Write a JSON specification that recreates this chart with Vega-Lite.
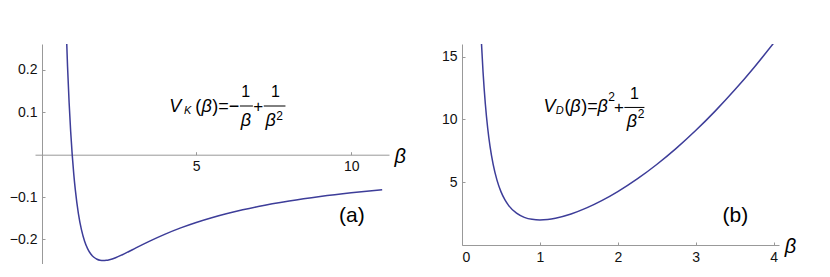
{
  "$schema": "https://vega.github.io/schema/vega-lite/v6.json",
  "padding": {"left": 9, "top": 44, "right": 0, "bottom": 0},
  "background": "white",
  "bounds": "flush",
  "spacing": 73,
  "config": {
    "view": {"stroke": null},
    "axis": {
      "grid": false,
      "title": null,
      "domainColor": "#999999",
      "tickColor": "#999999",
      "tickSize": -3,
      "labelFont": "Liberation Sans",
      "labelFontSize": 14,
      "labelColor": "#111111",
      "labelPadding": 8
    },
    "text": {"font": "Liberation Sans", "color": "#000000"}
  },
  "hconcat": [
    {
      "width": 354,
      "height": 220,
      "layer": [
        {
          "data": {"values": [
            {"beta": 0.8, "V": 0.3125}, {"beta": 0.85, "V": 0.2076}, {"beta": 0.9, "V": 0.1235}, {"beta": 0.95, "V": 0.0554},
            {"beta": 1.0, "V": 0.0}, {"beta": 1.05, "V": -0.0454}, {"beta": 1.1, "V": -0.0826}, {"beta": 1.2, "V": -0.1389},
            {"beta": 1.3, "V": -0.1775}, {"beta": 1.4, "V": -0.2041}, {"beta": 1.5, "V": -0.2222}, {"beta": 1.6, "V": -0.2344},
            {"beta": 1.7, "V": -0.2422}, {"beta": 1.8, "V": -0.2469}, {"beta": 1.9, "V": -0.2493}, {"beta": 2.0, "V": -0.25},
            {"beta": 2.1, "V": -0.2494}, {"beta": 2.2, "V": -0.2479}, {"beta": 2.4, "V": -0.2431}, {"beta": 2.6, "V": -0.2367},
            {"beta": 2.8, "V": -0.2296}, {"beta": 3.0, "V": -0.2222}, {"beta": 3.25, "V": -0.213}, {"beta": 3.5, "V": -0.2041},
            {"beta": 4.0, "V": -0.1875}, {"beta": 4.5, "V": -0.1728}, {"beta": 5.0, "V": -0.16}, {"beta": 5.5, "V": -0.1488},
            {"beta": 6.0, "V": -0.1389}, {"beta": 6.5, "V": -0.1302}, {"beta": 7.0, "V": -0.1224}, {"beta": 8.0, "V": -0.1094},
            {"beta": 9.0, "V": -0.0988}, {"beta": 10.0, "V": -0.09}, {"beta": 11.0, "V": -0.0826}
          ]},
          "mark": {"type": "line", "clip": true, "color": "#3d3d99", "strokeWidth": 1.5, "interpolate": "monotone"},
          "encoding": {
            "x": {"field": "beta", "type": "quantitative",
                  "scale": {"domain": [-0.2, 11.22], "nice": false, "zero": false},
                  "axis": {"values": [5, 10], "format": "d", "offset": -109.3}},
            "y": {"field": "V", "type": "quantitative",
                  "scale": {"domain": [-0.258, 0.261], "nice": false, "zero": false},
                  "axis": {"values": [-0.2, -0.1, 0.1, 0.2], "format": ".1f", "offset": -7}}
          }
        },
        {"data": {"values": [{}]}, "mark": {"type": "text", "text": "V", "fontSize": 18, "fontStyle": "italic", "align": "left", "baseline": "middle"},
         "encoding": {"x": {"datum": 4.13}, "y": {"datum": 0.1125}}},
        {"data": {"values": [{}]}, "mark": {"type": "text", "text": "K", "fontSize": 11, "fontStyle": "italic", "align": "left", "baseline": "middle"},
         "encoding": {"x": {"datum": 4.61}, "y": {"datum": 0.102}}},
        {"data": {"values": [{}]}, "mark": {"type": "text", "text": "(", "fontSize": 18, "align": "left", "baseline": "middle"},
         "encoding": {"x": {"datum": 4.97}, "y": {"datum": 0.1125}}},
        {"data": {"values": [{}]}, "mark": {"type": "text", "text": "β", "fontSize": 18, "fontStyle": "italic", "align": "left", "baseline": "middle"},
         "encoding": {"x": {"datum": 5.17}, "y": {"datum": 0.1125}}},
        {"data": {"values": [{}]}, "mark": {"type": "text", "text": ")=−", "fontSize": 18, "align": "left", "baseline": "middle"},
         "encoding": {"x": {"datum": 5.52}, "y": {"datum": 0.1125}}},
        {"data": {"values": [{}]}, "mark": {"type": "text", "text": "1", "fontSize": 16, "align": "center", "baseline": "middle"},
         "encoding": {"x": {"datum": 6.6}, "y": {"datum": 0.148}}},
        {"data": {"values": [{}]}, "mark": {"type": "rule", "color": "#000000", "strokeWidth": 1},
         "encoding": {"x": {"datum": 6.41}, "x2": {"datum": 6.83}, "y": {"datum": 0.1147}}},
        {"data": {"values": [{}]}, "mark": {"type": "text", "text": "β", "fontSize": 18, "fontStyle": "italic", "align": "center", "baseline": "middle"},
         "encoding": {"x": {"datum": 6.6}, "y": {"datum": 0.0795}}},
        {"data": {"values": [{}]}, "mark": {"type": "text", "text": "+", "fontSize": 17, "align": "center", "baseline": "middle"},
         "encoding": {"x": {"datum": 7.0}, "y": {"datum": 0.1135}}},
        {"data": {"values": [{}]}, "mark": {"type": "text", "text": "1", "fontSize": 16, "align": "center", "baseline": "middle"},
         "encoding": {"x": {"datum": 7.56}, "y": {"datum": 0.148}}},
        {"data": {"values": [{}]}, "mark": {"type": "rule", "color": "#000000", "strokeWidth": 1},
         "encoding": {"x": {"datum": 7.18}, "x2": {"datum": 7.88}, "y": {"datum": 0.1147}}},
        {"data": {"values": [{}]}, "mark": {"type": "text", "text": "β", "fontSize": 18, "fontStyle": "italic", "align": "center", "baseline": "middle"},
         "encoding": {"x": {"datum": 7.4}, "y": {"datum": 0.0795}}},
        {"data": {"values": [{}]}, "mark": {"type": "text", "text": "2", "fontSize": 12, "align": "center", "baseline": "middle"},
         "encoding": {"x": {"datum": 7.69}, "y": {"datum": 0.0913}}},
        {"data": {"values": [{}]}, "mark": {"type": "text", "text": "(a)", "fontSize": 21, "align": "center", "baseline": "middle"},
         "encoding": {"x": {"datum": 10.02}, "y": {"datum": -0.1446}}},
        {"data": {"values": [{}]}, "mark": {"type": "text", "text": "β", "fontSize": 20, "fontStyle": "italic", "align": "center", "baseline": "middle"},
         "encoding": {"x": {"datum": 11.58}, "y": {"datum": -0.0054}}}
      ]
    },
    {
      "width": 317,
      "height": 201,
      "layer": [
        {
          "data": {"values": [
            {"beta": 0.25, "V": 16.0625}, {"beta": 0.27, "V": 13.79}, {"beta": 0.3, "V": 11.2}, {"beta": 0.33, "V": 9.292},
            {"beta": 0.36, "V": 7.846}, {"beta": 0.4, "V": 6.41}, {"beta": 0.45, "V": 5.141}, {"beta": 0.5, "V": 4.25},
            {"beta": 0.55, "V": 3.608}, {"beta": 0.6, "V": 3.138}, {"beta": 0.7, "V": 2.531}, {"beta": 0.8, "V": 2.2025},
            {"beta": 0.9, "V": 2.0446}, {"beta": 1.0, "V": 2.0}, {"beta": 1.1, "V": 2.0364}, {"beta": 1.2, "V": 2.1344},
            {"beta": 1.4, "V": 2.4702}, {"beta": 1.6, "V": 2.9506}, {"beta": 1.8, "V": 3.5486}, {"beta": 2.0, "V": 4.25},
            {"beta": 2.25, "V": 5.26}, {"beta": 2.5, "V": 6.41}, {"beta": 2.75, "V": 7.695}, {"beta": 3.0, "V": 9.1111},
            {"beta": 3.25, "V": 10.657}, {"beta": 3.5, "V": 12.332}, {"beta": 3.75, "V": 14.134}, {"beta": 4.0, "V": 16.0625}
          ]},
          "mark": {"type": "line", "clip": true, "color": "#3d3d99", "strokeWidth": 1.5, "interpolate": "monotone"},
          "encoding": {
            "x": {"field": "beta", "type": "quantitative",
                  "scale": {"domain": [0, 4.07], "nice": false, "zero": false},
                  "axis": {"values": [0, 1, 2, 3, 4], "format": "d"}},
            "y": {"field": "V", "type": "quantitative",
                  "scale": {"domain": [0, 16], "nice": false, "zero": false},
                  "axis": {"values": [5, 10, 15], "format": "d"}}
          }
        },
        {"data": {"values": [{}]}, "mark": {"type": "text", "text": "V", "fontSize": 18, "fontStyle": "italic", "align": "left", "baseline": "middle"},
         "encoding": {"x": {"datum": 1.045}, "y": {"datum": 10.98}}},
        {"data": {"values": [{}]}, "mark": {"type": "text", "text": "D", "fontSize": 11, "fontStyle": "italic", "align": "left", "baseline": "middle"},
         "encoding": {"x": {"datum": 1.204}, "y": {"datum": 10.68}}},
        {"data": {"values": [{}]}, "mark": {"type": "text", "text": "(", "fontSize": 18, "align": "left", "baseline": "middle"},
         "encoding": {"x": {"datum": 1.315}, "y": {"datum": 10.98}}},
        {"data": {"values": [{}]}, "mark": {"type": "text", "text": "β", "fontSize": 18, "fontStyle": "italic", "align": "left", "baseline": "middle"},
         "encoding": {"x": {"datum": 1.39}, "y": {"datum": 10.98}}},
        {"data": {"values": [{}]}, "mark": {"type": "text", "text": ")=", "fontSize": 18, "align": "left", "baseline": "middle"},
         "encoding": {"x": {"datum": 1.532}, "y": {"datum": 10.98}}},
        {"data": {"values": [{}]}, "mark": {"type": "text", "text": "β", "fontSize": 18, "fontStyle": "italic", "align": "left", "baseline": "middle"},
         "encoding": {"x": {"datum": 1.74}, "y": {"datum": 10.98}}},
        {"data": {"values": [{}]}, "mark": {"type": "text", "text": "2", "fontSize": 12, "align": "center", "baseline": "middle"},
         "encoding": {"x": {"datum": 1.92}, "y": {"datum": 11.77}}},
        {"data": {"values": [{}]}, "mark": {"type": "text", "text": "+", "fontSize": 17, "align": "center", "baseline": "middle"},
         "encoding": {"x": {"datum": 2.015}, "y": {"datum": 10.9}}},
        {"data": {"values": [{}]}, "mark": {"type": "text", "text": "1", "fontSize": 16, "align": "center", "baseline": "middle"},
         "encoding": {"x": {"datum": 2.215}, "y": {"datum": 12.01}}},
        {"data": {"values": [{}]}, "mark": {"type": "rule", "color": "#000000", "strokeWidth": 1},
         "encoding": {"x": {"datum": 2.085}, "x2": {"datum": 2.342}, "y": {"datum": 10.95}}},
        {"data": {"values": [{}]}, "mark": {"type": "text", "text": "β", "fontSize": 18, "fontStyle": "italic", "align": "center", "baseline": "middle"},
         "encoding": {"x": {"datum": 2.18}, "y": {"datum": 9.81}}},
        {"data": {"values": [{}]}, "mark": {"type": "text", "text": "2", "fontSize": 12, "align": "center", "baseline": "middle"},
         "encoding": {"x": {"datum": 2.3}, "y": {"datum": 10.42}}},
        {"data": {"values": [{}]}, "mark": {"type": "text", "text": "(b)", "fontSize": 21, "align": "center", "baseline": "middle"},
         "encoding": {"x": {"datum": 3.51}, "y": {"datum": 2.31}}},
        {"data": {"values": [{}]}, "mark": {"type": "text", "text": "β", "fontSize": 20, "fontStyle": "italic", "align": "center", "baseline": "middle"},
         "encoding": {"x": {"datum": 4.216}, "y": {"datum": -0.16}}}
      ]
    }
  ]
}
